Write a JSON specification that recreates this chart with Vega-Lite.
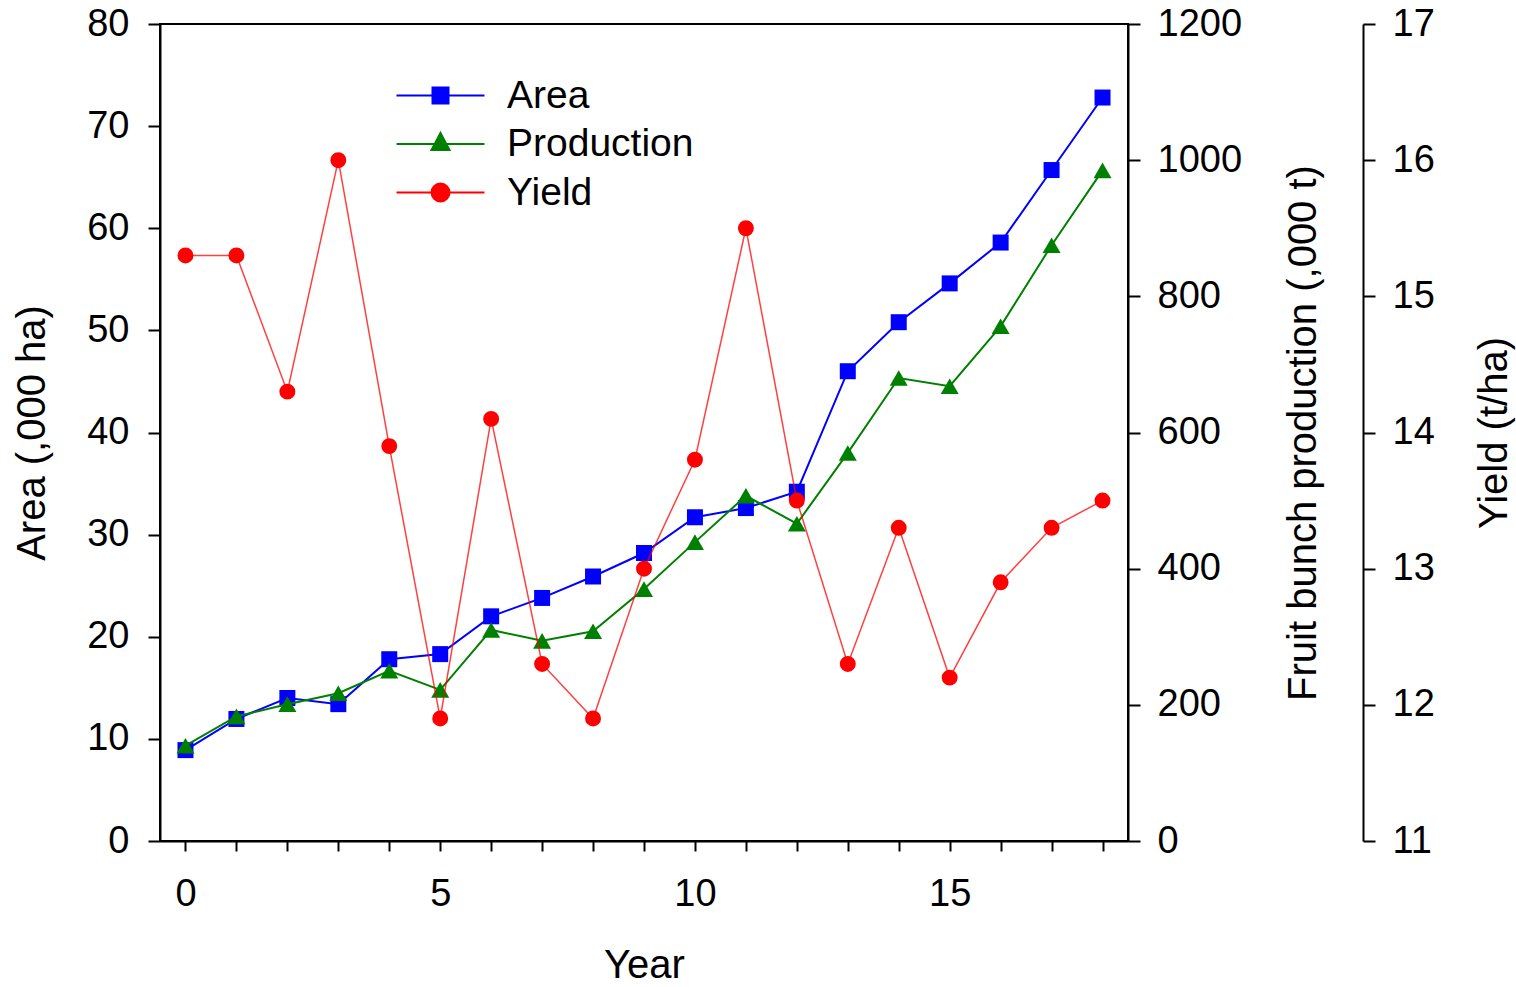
{
  "$schema": "https://vega.github.io/schema/vega-lite/v6.json",
  "width": 968,
  "height": 817,
  "autosize": {"type": "none"},
  "padding": {"left": 160, "top": 24, "right": 388, "bottom": 146},
  "background": "white",
  "data": {
    "values": [
      {"year": 0, "series": "Area", "value": 8.9},
      {"year": 1, "series": "Area", "value": 11.95},
      {"year": 2, "series": "Area", "value": 14.0},
      {"year": 3, "series": "Area", "value": 13.4},
      {"year": 4, "series": "Area", "value": 17.8},
      {"year": 5, "series": "Area", "value": 18.3},
      {"year": 6, "series": "Area", "value": 22.0},
      {"year": 7, "series": "Area", "value": 23.8},
      {"year": 8, "series": "Area", "value": 25.9},
      {"year": 9, "series": "Area", "value": 28.2},
      {"year": 10, "series": "Area", "value": 31.7},
      {"year": 11, "series": "Area", "value": 32.6},
      {"year": 12, "series": "Area", "value": 34.2},
      {"year": 13, "series": "Area", "value": 46.0},
      {"year": 14, "series": "Area", "value": 50.8},
      {"year": 15, "series": "Area", "value": 54.6},
      {"year": 16, "series": "Area", "value": 58.6},
      {"year": 17, "series": "Area", "value": 65.7},
      {"year": 18, "series": "Area", "value": 72.8},
      {"year": 0, "series": "Production", "value": 140},
      {"year": 1, "series": "Production", "value": 183},
      {"year": 2, "series": "Production", "value": 201},
      {"year": 3, "series": "Production", "value": 217},
      {"year": 4, "series": "Production", "value": 250},
      {"year": 5, "series": "Production", "value": 222},
      {"year": 6, "series": "Production", "value": 310},
      {"year": 7, "series": "Production", "value": 294},
      {"year": 8, "series": "Production", "value": 308},
      {"year": 9, "series": "Production", "value": 370},
      {"year": 10, "series": "Production", "value": 439},
      {"year": 11, "series": "Production", "value": 507},
      {"year": 12, "series": "Production", "value": 466},
      {"year": 13, "series": "Production", "value": 570},
      {"year": 14, "series": "Production", "value": 680},
      {"year": 15, "series": "Production", "value": 668},
      {"year": 16, "series": "Production", "value": 756},
      {"year": 17, "series": "Production", "value": 875},
      {"year": 18, "series": "Production", "value": 985},
      {"year": 0, "series": "Yield", "value": 15.3},
      {"year": 1, "series": "Yield", "value": 15.3},
      {"year": 2, "series": "Yield", "value": 14.3},
      {"year": 3, "series": "Yield", "value": 16.0},
      {"year": 4, "series": "Yield", "value": 13.9},
      {"year": 5, "series": "Yield", "value": 11.9},
      {"year": 6, "series": "Yield", "value": 14.1},
      {"year": 7, "series": "Yield", "value": 12.3},
      {"year": 8, "series": "Yield", "value": 11.9},
      {"year": 9, "series": "Yield", "value": 13.0},
      {"year": 10, "series": "Yield", "value": 13.8},
      {"year": 11, "series": "Yield", "value": 15.5},
      {"year": 12, "series": "Yield", "value": 13.5},
      {"year": 13, "series": "Yield", "value": 12.3},
      {"year": 14, "series": "Yield", "value": 13.3},
      {"year": 15, "series": "Yield", "value": 12.2},
      {"year": 16, "series": "Yield", "value": 12.9},
      {"year": 17, "series": "Yield", "value": 13.3},
      {"year": 18, "series": "Yield", "value": 13.5}
    ]
  },
  "encoding": {
    "x": {
      "field": "year",
      "type": "quantitative",
      "scale": {"domain": [-0.5, 18.5], "nice": false, "zero": false},
      "axis": {
        "title": "Year",
        "values": [0, 1, 2, 3, 4, 5, 6, 7, 8, 9, 10, 11, 12, 13, 14, 15, 16, 17, 18],
        "labelExpr": "datum.value % 5 === 0 ? datum.label : ''",
        "tickSize": 10,
        "labelPadding": 24,
        "titlePadding": 32,
        "labelOverlap": false
      }
    },
    "color": {
      "field": "series",
      "type": "nominal",
      "scale": {"domain": ["Area", "Production", "Yield"], "range": ["#0000ff", "#008000", "#ff0000"]},
      "legend": {
        "title": null,
        "orient": "none",
        "legendX": 261,
        "legendY": 52,
        "padding": 0,
        "labelFontSize": 39,
        "labelFont": "Liberation Sans",
        "labelColor": "black",
        "labelLimit": 0,
        "symbolSize": 400,
        "rowPadding": 8.5,
        "labelOffset": 47,
        "encode": {
          "symbols": {
            "update": {
              "shape": {"signal": "datum.value === 'Area' ? 'M-4.4,0H4.4M-0.8,-0.8H0.8V0.8H-0.8Z' : datum.value === 'Production' ? 'M-4.4,0H4.4M0,-1.1L0.9,0.6H-0.9Z' : 'M-4.4,0H4.4M-0.9,0A0.9,0.9,0,1,1,0.9,0A0.9,0.9,0,1,1,-0.9,0Z'"},
              "fill": {"signal": "datum.value === 'Area' ? '#0000ff' : datum.value === 'Production' ? '#008000' : '#ff0000'"},
              "stroke": {"signal": "datum.value === 'Area' ? '#0000ff' : datum.value === 'Production' ? '#008000' : '#ff4444'"},
              "strokeWidth": {"value": 2},
              "opacity": {"value": 1},
              "fillOpacity": {"value": 1}
            }
          }
        }
      }
    }
  },
  "layer": [
    {
      "transform": [{"filter": "datum.series === 'Area'"}],
      "encoding": {
        "y": {
          "field": "value",
          "type": "quantitative",
          "scale": {"domain": [0, 80], "nice": false},
          "axis": {
            "orient": "left",
            "title": "Area (,000 ha)",
            "values": [0, 10, 20, 30, 40, 50, 60, 70, 80],
            "tickSize": 12,
            "labelPadding": 19,
            "titlePadding": 34
          }
        }
      },
      "layer": [
        {"mark": {"type": "line", "strokeWidth": 2}},
        {"mark": {"type": "point", "shape": "square", "filled": true, "size": 256, "opacity": 1, "strokeWidth": 0}}
      ]
    },
    {
      "transform": [{"filter": "datum.series === 'Production'"}],
      "encoding": {
        "y": {
          "field": "value",
          "type": "quantitative",
          "scale": {"domain": [0, 1200], "nice": false},
          "axis": {
            "orient": "right",
            "title": "Fruit bunch production (,000 t)",
            "titleAngle": 270,
            "titleBaseline": "top",
            "format": "d",
            "values": [0, 200, 400, 600, 800, 1000, 1200],
            "tickSize": 12,
            "labelPadding": 17,
            "titlePadding": 42
          }
        }
      },
      "layer": [
        {"mark": {"type": "line", "strokeWidth": 2}},
        {"mark": {"type": "point", "shape": "triangle-up", "filled": true, "size": 324, "opacity": 1, "strokeWidth": 0}}
      ]
    },
    {
      "transform": [{"filter": "datum.series === 'Yield'"}],
      "encoding": {
        "y": {
          "field": "value",
          "type": "quantitative",
          "scale": {"domain": [11, 17], "nice": false, "zero": false},
          "axis": {
            "orient": "right",
            "offset": 235,
            "title": "Yield (t/ha)",
            "titleAngle": 270,
            "titleBaseline": "top",
            "values": [11, 12, 13, 14, 15, 16, 17],
            "tickSize": 12,
            "labelPadding": 17,
            "titlePadding": 40
          }
        }
      },
      "layer": [
        {"mark": {"type": "line", "strokeWidth": 1.5, "opacity": 0.75}},
        {"mark": {"type": "point", "shape": "circle", "filled": true, "size": 254, "opacity": 1, "strokeWidth": 0}}
      ]
    }
  ],
  "resolve": {"scale": {"y": "independent"}},
  "config": {
    "font": "Liberation Sans",
    "view": {"stroke": "black", "strokeWidth": 2},
    "axis": {
      "grid": false,
      "domainColor": "black",
      "domainWidth": 2,
      "tickColor": "black",
      "tickWidth": 2,
      "labelFont": "Liberation Sans",
      "labelFontSize": 38,
      "labelColor": "black",
      "titleFont": "Liberation Sans",
      "titleFontSize": 40,
      "titleFontWeight": "normal",
      "titleColor": "black",
      "labelOverlap": false
    }
  }
}
